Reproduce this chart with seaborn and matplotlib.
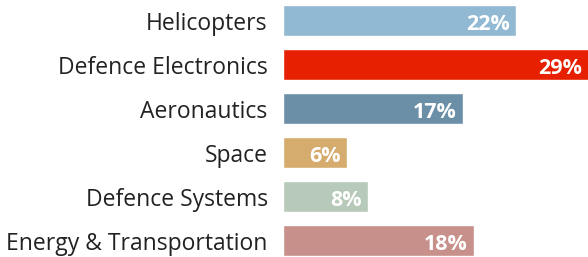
import matplotlib
matplotlib.use("Agg")
import matplotlib.pyplot as plt
import seaborn as sns
import pandas as pd

categories = ["Helicopters", "Defence Electronics", "Aeronautics", "Space",
              "Defence Systems", "Energy & Transportation"]
values = [22, 29, 17, 6, 8, 18]
labels = ["22%", "29%", "17%", "6%", "8%", "18%"]
colors = ["#91B9D4", "#E62000", "#6A8FA7", "#D5AC6D", "#B7C9B8", "#C8908A"]

sns.set_theme(style="white")
plt.rcParams['font.family'] = ['Open Sans', 'DejaVu Sans']

df = pd.DataFrame({"cat": categories, "val": values})

fig = plt.figure(figsize=(5.88, 2.57), dpi=100)
ax = fig.add_axes([283/588, 0, 1 - 283/588, 1])
sns.barplot(data=df, y="cat", x="val", hue="cat", palette=colors, legend=False,
            width=0.7, saturation=1, ax=ax, orient="h")
ax.set_xlim(0, 28.8)
ax.set_ylim(5.375, -0.466)
ax.set_xlabel("")
ax.set_ylabel("")
ax.set_xticks([])
for s in ax.spines.values():
    s.set_visible(False)
ax.tick_params(axis="y", length=0, pad=11, labelsize=16.5, labelcolor="#222222")
for t in ax.get_yticklabels():
    t.set_va("center_baseline")

for i, (v, lab) in enumerate(zip(values, labels)):
    ax.annotate(lab, xy=(min(v, 28.8), i), xytext=(-4.5, -6.5), textcoords="offset points",
                ha="right", va="baseline", color="white", fontsize=15.5,
                fontweight="bold")

fig.savefig("out.png", dpi=100)
